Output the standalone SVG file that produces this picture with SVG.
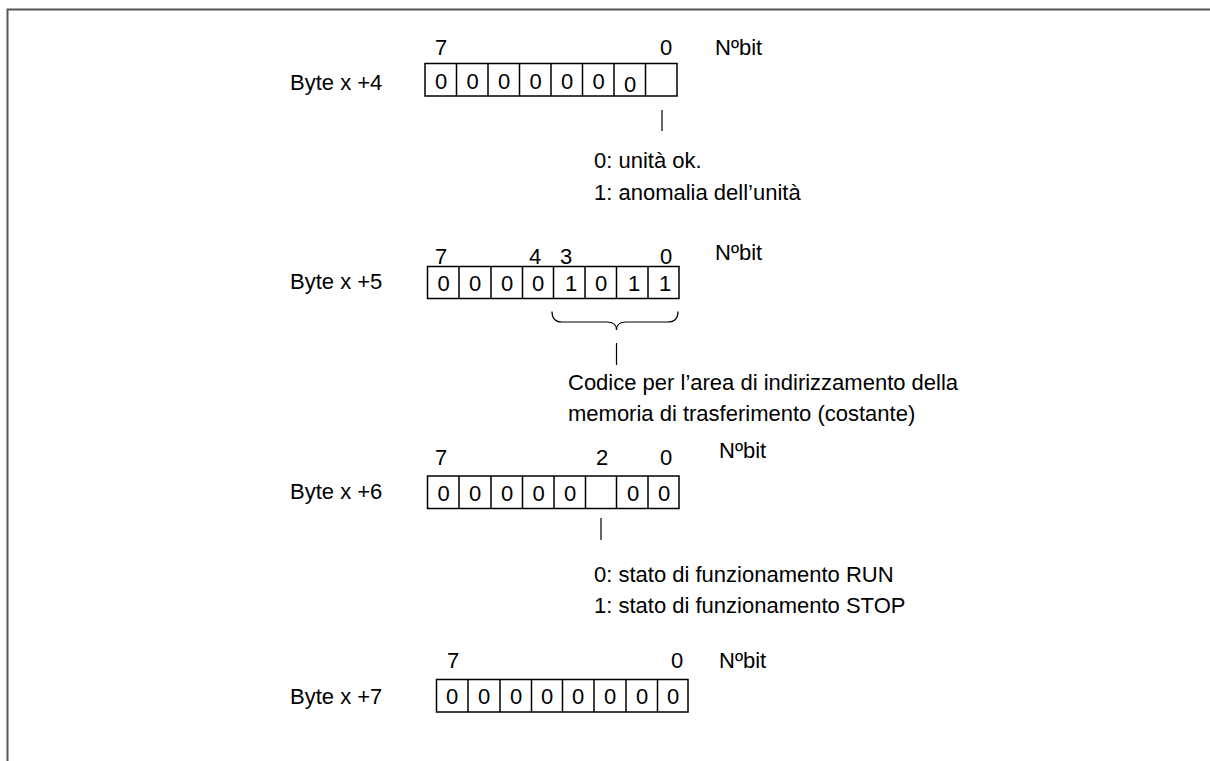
<svg xmlns="http://www.w3.org/2000/svg" width="1210" height="761" viewBox="0 0 1210 761">
  <style>
    text { font-family: "Liberation Sans", Arial, sans-serif; font-size: 22px; fill: #000; }
    .c { text-anchor: middle; }
    .box { fill: #fff; stroke: #000; stroke-width: 1.5; }
    .div { stroke: #000; stroke-width: 1.5; }
    .tick { stroke: #000; stroke-width: 1.2; fill: none; }
    .frame { stroke: #555; stroke-width: 2; fill: none; }
  </style>

  <!-- page frame -->
  <path class="frame" d="M7.5,761 V9.5 H1210"/>

  <!-- Byte x +4 -->
  <g id="byte4">
    <text x="441" y="55" class="c">7</text>
    <text x="666" y="55" class="c">0</text>
    <text x="715" y="55">Nºbit</text>
    <text x="290" y="90">Byte x +4</text>
    <rect class="box" x="425" y="63.5" width="252" height="32.5"/>
    <path class="div" d="M456.5,63.5V96 M488,63.5V96 M519.5,63.5V96 M551,63.5V96 M582.5,63.5V96 M614,63.5V96 M645.5,63.5V96"/>
    <text x="441" y="89" class="c">0</text>
    <text x="472.5" y="89" class="c">0</text>
    <text x="504" y="89" class="c">0</text>
    <text x="535.5" y="89" class="c">0</text>
    <text x="567" y="89" class="c">0</text>
    <text x="598.5" y="89" class="c">0</text>
    <text x="630" y="92" class="c">0</text>
  </g>
  <g id="note4">
    <text x="594" y="168">0: unità ok.</text>
    <text x="594" y="200">1: anomalia dell’unità</text>
  </g>

  <!-- Byte x +5 -->
  <g id="byte5">
    <text x="441" y="264" class="c">7</text>
    <text x="535" y="264" class="c">4</text>
    <text x="566" y="264" class="c">3</text>
    <text x="666" y="264" class="c">0</text>
    <text x="715" y="260">Nºbit</text>
    <text x="290" y="289">Byte x +5</text>
    <rect class="box" x="427.5" y="266.5" width="251.5" height="32"/>
    <path class="div" d="M459,266.5V298.5 M491,266.5V298.5 M522.5,266.5V298.5 M553.5,266.5V298.5 M585,266.5V298.5 M616.5,266.5V298.5 M648,266.5V298.5"/>
    <text x="443.5" y="291" class="c">0</text>
    <text x="475" y="291" class="c">0</text>
    <text x="507" y="291" class="c">0</text>
    <text x="538" y="291" class="c">0</text>
    <text x="571" y="291" class="c">1</text>
    <text x="601" y="291" class="c">0</text>
    <text x="634" y="291" class="c">1</text>
    <text x="665" y="291" class="c">1</text>
  </g>
  <g id="note5">
    <text x="568" y="390">Codice per l’area di indirizzamento della</text>
    <text x="568" y="421">memoria di trasferimento (costante)</text>
  </g>

  <!-- Byte x +6 -->
  <g id="byte6">
    <text x="441" y="465" class="c">7</text>
    <text x="602" y="465" class="c">2</text>
    <text x="666" y="465" class="c">0</text>
    <text x="719" y="458">Nºbit</text>
    <text x="290" y="499">Byte x +6</text>
    <rect class="box" x="427.5" y="476" width="251.5" height="32.5"/>
    <path class="div" d="M459,476V508.5 M491,476V508.5 M522.5,476V508.5 M554,476V508.5 M585.5,476V508.5 M616.5,476V508.5 M648,476V508.5"/>
    <text x="443.5" y="501" class="c">0</text>
    <text x="475" y="501" class="c">0</text>
    <text x="507" y="501" class="c">0</text>
    <text x="538.5" y="501" class="c">0</text>
    <text x="570" y="501" class="c">0</text>
    <text x="633" y="501" class="c">0</text>
    <text x="664" y="501" class="c">0</text>
  </g>
  <g id="note6">
    <text x="594" y="582">0: stato di funzionamento RUN</text>
    <text x="594" y="613">1: stato di funzionamento STOP</text>
  </g>

  <!-- Byte x +7 -->
  <g id="byte7">
    <text x="453" y="668" class="c">7</text>
    <text x="677" y="668" class="c">0</text>
    <text x="719" y="668">Nºbit</text>
    <text x="290" y="704">Byte x +7</text>
    <rect class="box" x="436.5" y="679.5" width="251.5" height="32.5"/>
    <path class="div" d="M468,679.5V712 M500,679.5V712 M531.5,679.5V712 M562.5,679.5V712 M594,679.5V712 M626,679.5V712 M657.5,679.5V712"/>
    <text x="452" y="704" class="c">0</text>
    <text x="484" y="704" class="c">0</text>
    <text x="516" y="704" class="c">0</text>
    <text x="547" y="704" class="c">0</text>
    <text x="578" y="704" class="c">0</text>
    <text x="610" y="704" class="c">0</text>
    <text x="642" y="704" class="c">0</text>
    <text x="673" y="704" class="c">0</text>
  </g>

  <!-- connectors: leader ticks and brace -->
  <g id="connectors">
    <path class="tick" d="M662,110V131"/>
    <path class="tick" d="M552,311.5 Q552,322 562,322 H607 Q616.5,322 616.5,330 Q616.5,322 626,322 H668 Q678,322 678,311.5"/>
    <path class="tick" d="M616.5,343V365"/>
    <path class="tick" d="M601,518V540"/>
  </g>
</svg>
